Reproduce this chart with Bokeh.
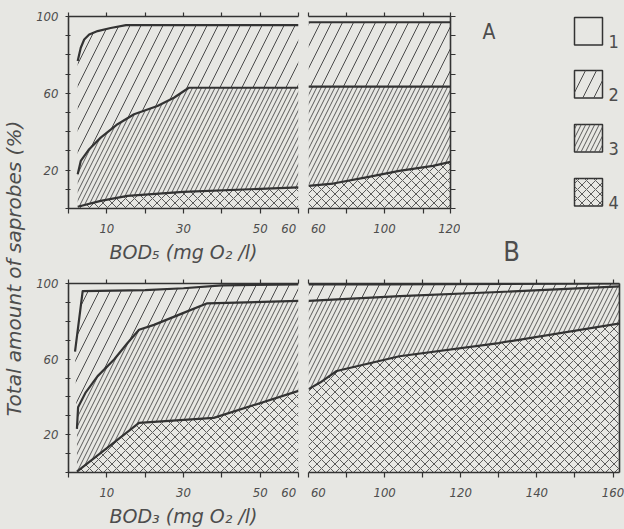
import numpy as np
from bokeh.plotting import figure
from bokeh.layouts import row, column
from bokeh.models import Range1d, LinearAxis, FixedTicker, CustomLabelingPolicy
from bokeh.core.properties import value
from bokeh.embed import file_html
from bokeh.resources import INLINE

# ---------------- data ----------------
# Panel A, left segment: BOD5 0-60 mg O2/l ; upper boundaries of groups 2, 3, 4 (%)
A_L_top_x = [2.4, 3.2, 4.1, 5.4, 7.6, 11, 15, 60]
A_L_top_y = [76.8, 83.7, 88, 90.6, 92.4, 94, 95.5, 95.5]
A_L_mid_x = [2.4, 3.2, 5.4, 8.4, 12.8, 17.1, 23.2, 27.5, 31.4, 60]
A_L_mid_y = [17.9, 24.8, 30.9, 36.9, 43.9, 49.1, 53.4, 57.7, 62.9, 62.9]
A_L_low_x = [2.4, 8.4, 15.4, 30, 60]
A_L_low_y = [0.9, 4, 6.6, 8.7, 11]
# Panel A, right segment: 60-120
A_R_top_x = [60, 120]
A_R_top_y = [97, 97]
A_R_mid_x = [60, 120]
A_R_mid_y = [63.5, 63.5]
A_R_low_x = [60, 73, 90.4, 104.5, 114.7, 120]
A_R_low_y = [11.8, 13, 16.2, 19.6, 22.2, 24.3]
# Panel B, left segment: 0-60
B_L_top_x = [1.7, 3.7, 20, 30, 40, 60]
B_L_top_y = [64, 96, 96.5, 97.5, 99, 99.5]
B_L_mid_x = [2.2, 2.5, 4.5, 7.6, 11.9, 15.4, 18.4, 22.3, 29.7, 36.2, 60]
B_L_mid_y = [23.1, 34.5, 42.4, 51, 59.8, 68.5, 75.5, 78.1, 84.2, 89.5, 90.8]
B_L_low_x = [2.2, 18.4, 37.9, 60]
B_L_low_y = [0.5, 26.3, 28.9, 43.2]
# Panel B, right segment: 60-162
B_R_top_x = [60, 100, 162]
B_R_top_y = [99.5, 99.5, 100]
B_R_mid_x = [60, 104, 130, 162]
B_R_mid_y = [90.8, 93.3, 95.5, 98.5]
B_R_low_x = [60, 66.1, 74.8, 103.9, 130, 162]
B_R_low_y = [44.1, 47.6, 53.7, 61.5, 68.5, 79]

# ticks and tick labels
NB = "\u00a0\u00a0"
Y_TICKS = list(range(0, 101, 10))
Y_LABELS = {20: "20", 60: "60", 100: "100"}
XL_TICKS = list(range(0, 61, 10))
XL_LABELS = {10: "10", 30: "30", 50: "50", 60: "60" + NB}
A_R_TICKS = [60, 80, 100, 112, 120]
A_R_LABELS = {60: NB + "60", 100: "100", 120: "120"}
B_R_TICKS = [60, 80, 100, 110, 120, 130, 140, 150, 160]
B_R_LABELS = {60: NB + "60", 100: "100", 120: "120", 140: "140", 160: "160"}
LEGEND_LABELS = ["1", "2", "3", "4"]
PANEL_LETTERS = ["A", "B"]

# the hand-drawn right segments use a broken (piecewise linear) x scale
A_R_SCALE = ([60, 100, 120], [0, 200, 374])
B_R_SCALE = ([60, 100, 170], [0, 200, 900])

# ---------------- style ----------------
BG = "#e7e7e3"
INK = "#333333"
HATCH = "#4a4a4a"
TXT = "#4d4d4d"
NARROW = "DejaVu Sans Condensed, Liberation Sans Narrow, sans-serif"
WIDE = "DejaVu Sans, sans-serif"
LAYERS = [  # group 2, 3, 4 hatches
    dict(hatch_pattern="right_diagonal_line", hatch_scale=22, hatch_weight=1.0, hatch_color=HATCH),
    dict(hatch_pattern="right_diagonal_line", hatch_scale=9, hatch_weight=0.9, hatch_color=HATCH),
    dict(hatch_pattern="diagonal_cross", hatch_scale=9, hatch_weight=0.9, hatch_color=HATCH),
]


def scaler(scale):
    if scale is None:
        return lambda v: np.asarray(v, dtype=float)
    return lambda v: np.interp(np.asarray(v, dtype=float), scale[0], scale[1])


def make_panel(w, h, xr, mb):
    p = figure(width=w, height=h, x_range=Range1d(*xr), y_range=Range1d(0, 100),
               output_backend="svg", toolbar_location=None,
               x_axis_location=None, y_axis_location=None,
               min_border_left=mb[0], min_border_right=mb[1],
               min_border_top=mb[2], min_border_bottom=mb[3],
               background_fill_color=BG, border_fill_color=BG, outline_line_color=None)
    p.xgrid.visible = False
    p.ygrid.visible = False
    return p


def axis(ticks, labels, show_labels, tin, tout, title=None):
    keep = [i for i, t in enumerate(ticks) if show_labels and t in labels]
    ax = LinearAxis(ticker=FixedTicker(ticks=ticks),
                    major_label_overrides={t: labels.get(t, "") for t in ticks} if show_labels else {},
                    major_label_policy=CustomLabelingPolicy(args=dict(keep=keep), code="return keep"),
                    axis_line_color=INK, axis_line_width=1.6,
                    major_tick_line_color=INK, major_tick_line_width=1.2,
                    major_tick_in=tin, major_tick_out=tout,
                    minor_tick_line_color=None,
                    major_label_text_color=TXT,
                    major_label_text_font=NARROW,
                    major_label_text_font_style="italic",
                    major_label_text_font_size="13px" if show_labels else "1px",
                    major_label_standoff=7 if show_labels else 0)
    if title:
        ax.axis_label = title
        ax.axis_label_text_font = WIDE
        ax.axis_label_text_font_style = "italic"
        ax.axis_label_text_font_size = "19px"
        ax.axis_label_text_color = TXT
        ax.axis_label_standoff = 2
    return ax


def fill_layers(p, fx, tops):
    # tops: list of (x, y) for group-2, group-3, group-4 upper boundaries
    bounds = tops + [(tops[-1][0], [0] * len(tops[-1][0]))]
    for i in range(3):
        ux, uy = bounds[i]
        lx, ly = bounds[i + 1]
        xs = np.concatenate([fx(ux), fx(lx)[::-1]])
        ys = np.concatenate([np.asarray(uy, float), np.asarray(ly, float)[::-1]])
        p.patch(xs, ys, fill_color=None, line_color=None, **LAYERS[i])
    for (x, y) in tops:
        p.line(fx(x), y, line_color=INK, line_width=2.2, line_join="round")


def build(w, h, mb, scale, xr_data, xticks, xlabels, tops, side, title=None):
    fx = scaler(scale)
    xr = (float(fx([xr_data[0]])[0]), float(fx([xr_data[1]])[0]))
    p = make_panel(w, h, xr, mb)
    fill_layers(p, fx, tops)
    dticks = [int(round(float(fx([t])[0]))) for t in xticks]
    dlabels = {int(round(float(fx([t])[0]))): s for t, s in xlabels.items()}
    p.add_layout(axis(dticks, dlabels, True, 0, 5, title), "below")
    p.add_layout(axis(dticks, dlabels, False, 0, 4), "above")
    if side == "left":
        p.add_layout(axis(Y_TICKS, Y_LABELS, True, 2, 3), "left")
    else:
        p.add_layout(axis(Y_TICKS, Y_LABELS, False, 0, 5 if side == "right" else 0), "right")
    return p


# ---------------- panels ----------------
A_left = build(277, 270, (42, 5, 16, 62), None, (0, 60), XL_TICKS, XL_LABELS,
               [(A_L_top_x, A_L_top_y), (A_L_mid_x, A_L_mid_y), (A_L_low_x, A_L_low_y)],
               "left", "BOD\u2085 (mg O\u2082 /l)")
A_right = build(157, 270, (5, 8, 16, 62), A_R_SCALE, (60, 120), A_R_TICKS, A_R_LABELS,
                [(A_R_top_x, A_R_top_y), (A_R_mid_x, A_R_mid_y), (A_R_low_x, A_R_low_y)],
                "right")
B_left = build(277, 259, (42, 5, 13, 55), None, (0, 60), XL_TICKS, XL_LABELS,
               [(B_L_top_x, B_L_top_y), (B_L_mid_x, B_L_mid_y), (B_L_low_x, B_L_low_y)],
               "left", "BOD\u2083 (mg O\u2082 /l)")
B_right = build(321, 259, (5, 2, 13, 55), B_R_SCALE, (60, 161.7), B_R_TICKS, B_R_LABELS,
                [(B_R_top_x, B_R_top_y), (B_R_mid_x, B_R_mid_y), (B_R_low_x, B_R_low_y)],
                "edge")

# ---------------- legend / panel letters (pixel-like layout space) ----------------
LW, LH = 164, 270
leg = figure(width=LW, height=LH, x_range=Range1d(0, LW), y_range=Range1d(LH, 0),
             output_backend="svg", toolbar_location=None,
             x_axis_location=None, y_axis_location=None, min_border=0,
             background_fill_color=BG, border_fill_color=BG, outline_line_color=None)
leg.frame_align = False
leg.xgrid.visible = False
leg.ygrid.visible = False
box_left, box_right = 114, 142
box_tops = [17, 70, 124, 178]
box_h = 27.5
leg.quad(left=[box_left] * 4, right=[box_right] * 4,
         top=box_tops, bottom=[t + box_h for t in box_tops],
         fill_color=None, line_color=INK, line_width=1.5)
for i in range(3):
    t = box_tops[i + 1]
    leg.quad(left=[box_left], right=[box_right], top=[t], bottom=[t + box_h],
             fill_color=None, line_color=None, **LAYERS[i])
leg.text(x=[148] * 4, y=[t + box_h + 3 for t in box_tops], text=LEGEND_LABELS,
         text_font=value(NARROW), text_font_size="18px", text_color=TXT,
         text_align="left", text_baseline="bottom")
leg.text(x=[28.5, 51], y=[31, 251], text=PANEL_LETTERS, text_font=value(NARROW),
         text_font_size=["21px", "27px"], text_color=TXT,
         text_align="center", text_baseline="middle")

# ---------------- shared y title ----------------
TW, TH = 26, 529
ttl = figure(width=TW, height=TH, x_range=Range1d(0, TW), y_range=Range1d(TH, 0),
             output_backend="svg", toolbar_location=None,
             x_axis_location=None, y_axis_location=None, min_border=0,
             background_fill_color=BG, border_fill_color=BG, outline_line_color=None)
ttl.frame_align = False
ttl.xgrid.visible = False
ttl.ygrid.visible = False
ttl.text(x=[13], y=[268], text=["Total amount of saprobes (%)"], angle=np.pi / 2,
         text_font=value(WIDE), text_font_style="italic", text_font_size="20px",
         text_color=TXT, text_align="center", text_baseline="middle")

layout = row(ttl, column(row(A_left, A_right, leg), row(B_left, B_right)))
layout.styles = {"background-color": BG}

open("out.html", "w").write(file_html(layout, INLINE))
